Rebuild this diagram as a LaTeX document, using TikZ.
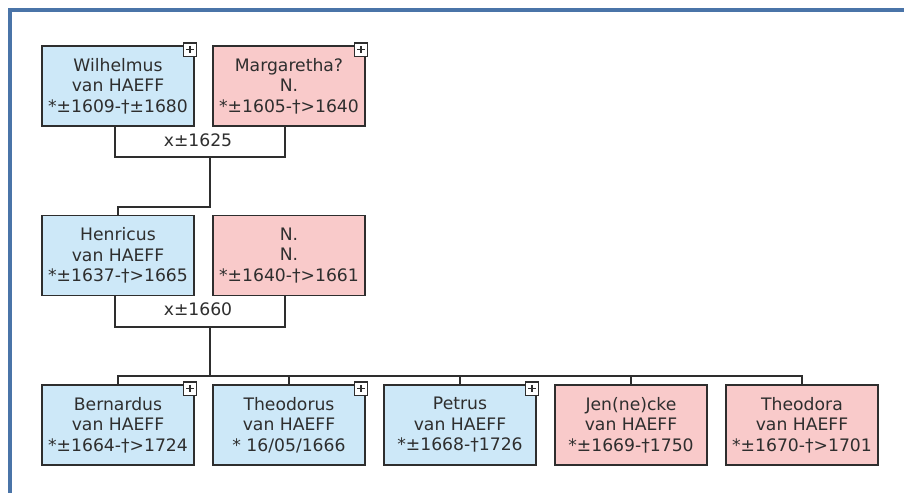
\documentclass[tikz,border=0pt]{standalone}
\usepackage{fontspec}
\setmainfont{DejaVu Sans}
\usetikzlibrary{calc}
\definecolor{mblue}{HTML}{CDE8F8}
\definecolor{fpink}{HTML}{F9CACA}
\definecolor{frameblue}{HTML}{4A74A8}
\definecolor{ink}{HTML}{2E2E2E}
\tikzset{
  person/.style={draw=ink, line width=1.4pt, minimum width=114pt, minimum height=60pt,
    inner sep=0pt, align=center, text=ink, font=\fontsize{12.9}{15.4}\selectfont},
  male/.style={person, fill=mblue},
  female/.style={person, fill=fpink},
  plusbox/.style={draw=ink, fill=white, line width=1pt, minimum size=10pt, inner sep=0pt,
    path picture={
      \draw[line width=1pt, ink] ([yshift=-2.2pt]path picture bounding box.north) -- ([yshift=2.2pt]path picture bounding box.south);
      \draw[line width=1pt, ink] ([xshift=2.2pt]path picture bounding box.west) -- ([xshift=-2.2pt]path picture bounding box.east);
    }},
  link/.style={draw=ink, line width=1.4pt},
  mlabel/.style={text=ink, font=\fontsize{12.9}{15.4}\selectfont, inner sep=0pt},
}
\begin{document}
\begin{tikzpicture}[x=0.75pt, y=-0.75pt]
\path[fill=white] (0,0) rectangle (904,493);
\useasboundingbox (0,0) rectangle (904,493);
% frame
\draw[frameblue, line width=2.4pt] (10,493) -- (10,10) -- (904,10);

% generation 1
\node[male] (W) at (118,86) {Wilhelmus\\van HAEFF\\*±1609-†±1680};
\node[female] (M) at (289,86) {Margaretha?\\N.\\*±1605-†>1640};
% generation 2
\node[male] (H) at (118,255.5) {Henricus\\van HAEFF\\*±1637-†>1665};
\node[female] (N) at (289,255.5) {N.\\N.\\*±1640-†>1661};
% generation 3
\node[male] (B) at (118,425) {Bernardus\\van HAEFF\\*±1664-†>1724};
\node[male] (T) at (289,425) {Theodorus\\van HAEFF\\* 16/05/1666};
\node[male] (P) at (460,425) {Petrus\\van HAEFF\\*±1668-†1726};
\node[female] (J) at (631,425) {Jen(ne)cke\\van HAEFF\\*±1669-†1750};
\node[female] (D) at (802,425) {Theodora\\van HAEFF\\*±1670-†>1701};

% plus icons
\foreach \n in {W,M,B,T,P}{
  \node[plusbox] (plus\n) at ([xshift=-3.6pt,yshift=-3.4pt]\n.north east) {};
}

% marriage 1
\coordinate (c1) at (210,157);
\coordinate (j1) at (210,207);
\draw[link] ([xshift=-2.25pt]W.south) |- (c1) -| ([xshift=-3pt]M.south);
\node[mlabel] (m1) at (198,140) {x±1625};
\draw[link] (c1) -- (j1) -| (H.north);

% marriage 2
\coordinate (c2) at (210,327);
\coordinate (j2) at (210,376);
\draw[link] ([xshift=-2.25pt]H.south) |- (c2) -| ([xshift=-3pt]N.south);
\node[mlabel] (m2) at (198,309) {x±1660};
\draw[link] (c2) -- (j2);
\draw[link] (B.north) |- (D.north |- j2) -- (D.north);
\foreach \n in {T,P,J}{
  \draw[link] (\n.north) -- (\n.north |- j2);
}
\end{tikzpicture}
\end{document}
